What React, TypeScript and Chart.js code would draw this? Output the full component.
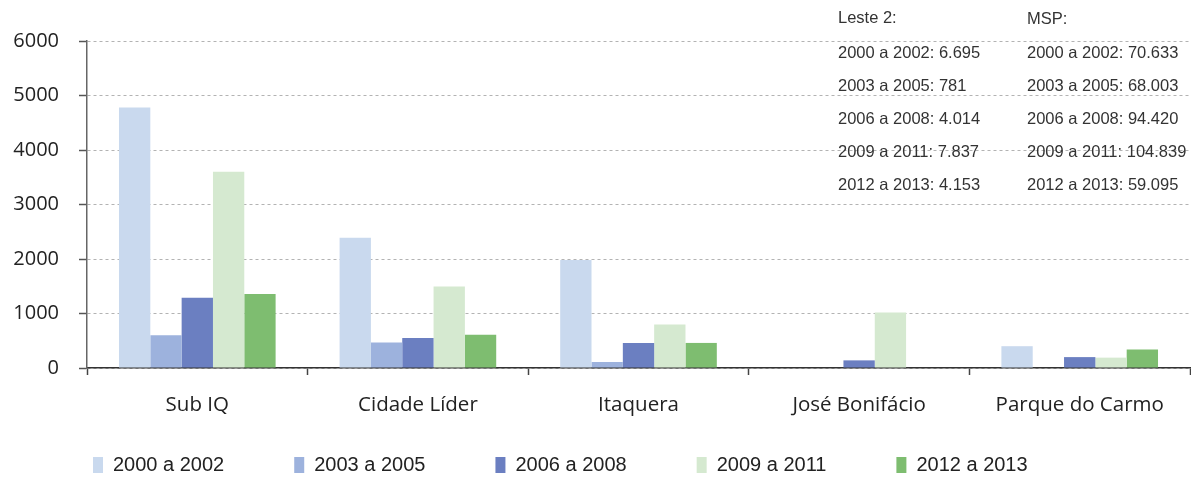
import React, { useEffect, useRef } from "react";
import { Chart, registerables } from "chart.js";

Chart.register(...registerables);

const categories = ["Sub IQ", "Cidade Líder", "Itaquera", "José Bonifácio", "Parque do Carmo"];
const periods = ["2000 a 2002", "2003 a 2005", "2006 a 2008", "2009 a 2011", "2012 a 2013"];
const s2000a2002 = [4780, 2390, 1980, 0, 400];
const s2003a2005 = [600, 470, 110, 0, 0];
const s2006a2008 = [1290, 550, 460, 140, 200];
const s2009a2011 = [3600, 1495, 800, 1020, 190];
const s2012a2013 = [1360, 610, 460, 0, 340];
const seriesColors = ["#c9d9ee", "#9db2dd", "#6b7fc1", "#d5e9d0", "#7ebd70"];
const yMin = 0;
const yMax = 6000;
const yStep = 1000;
const lesteTitle = "Leste 2:";
const mspTitle = "MSP:";
const lesteTotals = ["6.695", "781", "4.014", "7.837", "4.153"];
const mspTotals = ["70.633", "68.003", "94.420", "104.839", "59.095"];

const allSeries = [s2000a2002, s2003a2005, s2006a2008, s2009a2011, s2012a2013];

const notesPlugin = {
  id: "notes",
  afterDraw(chart: any) {
    const ctx = chart.ctx;
    ctx.save();
    ctx.font = "16.5px 'Liberation Sans'";
    ctx.fillStyle = "#333";
    ctx.textAlign = "left";
    ctx.textBaseline = "middle";
    const xL = 838;
    const xR = 1027;
    ctx.fillText(lesteTitle, xL, 18);
    ctx.fillText(mspTitle, xR, 19);
    periods.forEach((p, i) => {
      const y = 53 + i * 33;
      ctx.fillText(`${p}: ${lesteTotals[i]}`, xL, y);
      ctx.fillText(`${p}: ${mspTotals[i]}`, xR, y);
    });
    ctx.restore();
  },
};

const LEGEND_H = 61;

const legendPlacePlugin = {
  id: "legendPlace",
  beforeLayout(chart: any) {
    const lg = chart.legend;
    if (!lg || lg.__patched) return;
    const origFit = lg.fit;
    lg.fit = function (this: any) {
      origFit.call(this);
      this.height = LEGEND_H;
    };
    lg.__patched = true;
  },
  afterLayout(chart: any) {
    const lg = chart.legend;
    if (!lg) return;
    const pad = lg.options.labels.padding;
    const itemH = Math.max(lg.options.labels.font.size, lg.options.labels.boxHeight);
    const top = 465 - itemH / 2 - pad;
    lg.top = top;
    lg.bottom = chart.height;
    lg.height = lg.bottom - lg.top;
    lg.left = 93 - pad;
  },
};

export default function App() {
  const ref = useRef<HTMLCanvasElement | null>(null);
  useEffect(() => {
    if (!ref.current) return;
    const chart = new Chart(ref.current, {
      type: "bar",
      data: {
        labels: categories,
        datasets: periods.map((p, i) => ({
          label: p,
          data: allSeries[i],
          backgroundColor: seriesColors[i],
          borderWidth: 0,
          categoryPercentage: 0.71,
          barPercentage: 1.0,
        })),
      },
      options: {
        responsive: false,
        animation: false,
        layout: { padding: { left: 0, right: 1, top: 41, bottom: 0 } },
        plugins: {
          tooltip: { enabled: false },
          legend: {
            position: "bottom",
            align: "start",
            labels: {
              boxWidth: 10,
              boxHeight: 16,
              padding: 70,
              color: "#222",
              font: { family: "'Liberation Sans'", size: 20 },
            },
          },
        },
        scales: {
          x: {
            afterFit(scale: any) {
              scale.height = 49;
            },
            grid: {
              drawOnChartArea: false,
              drawTicks: true,
              tickLength: 7,
              tickColor: "#444",
              tickWidth: 1.5,
            },
            border: { color: "#333", width: 1.5 },
            ticks: {
              padding: 18,
              color: "#222",
              font: { family: "'Open Sans'", size: 20.5 },
            },
          },
          y: {
            min: yMin,
            max: yMax,
            afterFit(scale: any) {
              scale.width = 87;
            },
            grid: {
              color: "#b3b3b3",
              lineWidth: 1,
              tickLength: 8,
              tickColor: "#555",
              tickWidth: 1.5,
            },
            border: { color: "#666", width: 1.5, dash: [3, 3] },
            ticks: {
              stepSize: yStep,
              padding: 20,
              color: "#222",
              font: { family: "'Open Sans'", size: 20 },
              callback: (v: any) => String(v),
            },
          },
        },
      },
      plugins: [notesPlugin, legendPlacePlugin],
    });
    return () => chart.destroy();
  }, []);
  return (
    <div style={{ position: "fixed", left: 0, top: 0, width: 1191, height: 478, background: "#fff" }}>
      <canvas ref={ref} width={1191} height={478} style={{ width: 1191, height: 478 }} />
    </div>
  );
}
